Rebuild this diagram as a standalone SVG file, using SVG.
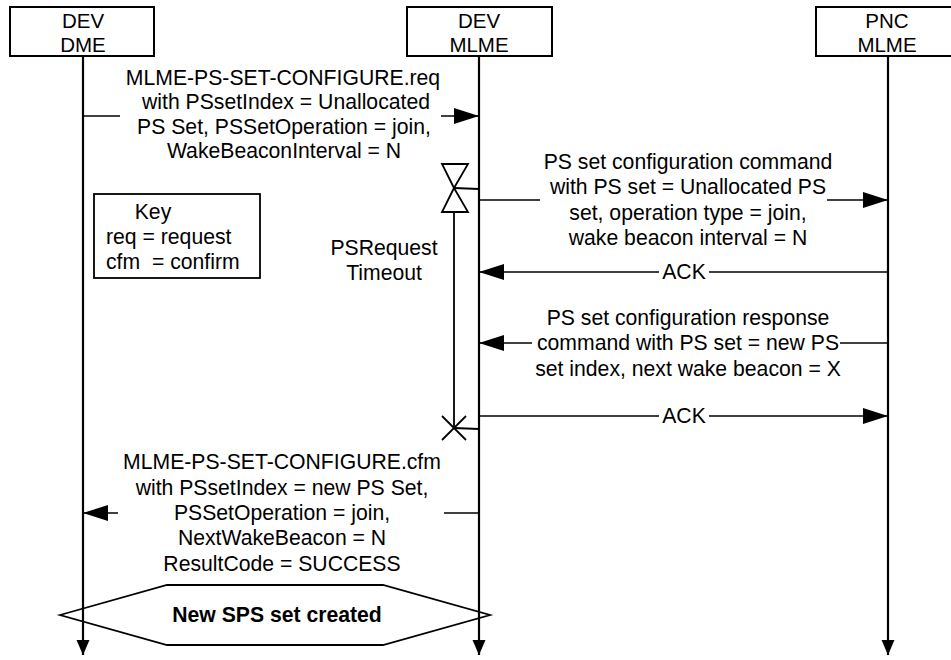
<svg xmlns="http://www.w3.org/2000/svg" width="951" height="660" viewBox="0 0 951 660">
<style>
text{font-family:"Liberation Sans",Arial,sans-serif;font-size:21.2px;fill:#000}
.c{text-anchor:middle}
.b{font-weight:bold}
.h{font-size:20.5px}
.box{fill:#fff;stroke:#000;stroke-width:2}
.life{stroke:#000;stroke-width:2.2;fill:none}
.msg{stroke:#000;stroke-width:1.6;fill:none}
.shape{stroke:#000;stroke-width:1.8;fill:none}
</style>
<defs>
<marker id="ah" markerUnits="userSpaceOnUse" markerWidth="26" markerHeight="18" refX="25" refY="8" orient="auto">
<path d="M0,0 L25,8 L0,16 z" fill="#000"/>
</marker>
<marker id="lh" markerUnits="userSpaceOnUse" markerWidth="16" markerHeight="14" refX="15" refY="6.5" orient="auto">
<path d="M0,0 L15,6.5 L0,13 z" fill="#000"/>
</marker>
</defs>

<g id="node-dev-dme">
<rect class="box" x="10" y="7" width="144" height="49"/>
<text class="c h" x="83" y="28">DEV</text>
<text class="c h" x="83" y="52">DME</text>
</g>
<g id="node-dev-mlme">
<rect class="box" x="407" y="7" width="145" height="49"/>
<text class="c h" x="479" y="28">DEV</text>
<text class="c h" x="479" y="52">MLME</text>
</g>
<g id="node-pnc-mlme">
<rect class="box" x="816" y="7" width="144" height="49"/>
<text class="c h" x="887" y="28">PNC</text>
<text class="c h" x="887" y="52">MLME</text>
</g>

<g id="key">
<rect x="94" y="194" width="166" height="84" fill="none" stroke="#000" stroke-width="1.8"/>
<text class="c" x="153" y="219">Key</text>
<text x="106" y="244">req = request</text>
<text x="106" y="269" xml:space="preserve">cfm  = confirm</text>
</g>

<g id="connectors">
<line class="life" x1="83" y1="56" x2="83" y2="655" marker-end="url(#lh)"/>
<line class="life" x1="479" y1="56" x2="479" y2="655" marker-end="url(#lh)"/>
<line class="life" x1="888" y1="56" x2="888" y2="655" marker-end="url(#lh)"/>

<line class="msg" x1="83" y1="116" x2="120" y2="116"/>
<line class="msg" x1="441" y1="116" x2="479" y2="116" marker-end="url(#ah)"/>

<line class="msg" x1="479" y1="200" x2="540" y2="200"/>
<line class="msg" x1="827" y1="200" x2="888" y2="200" marker-end="url(#ah)"/>

<line class="msg" x1="888" y1="272" x2="709" y2="272"/>
<line class="msg" x1="659" y1="272" x2="479" y2="272" marker-end="url(#ah)"/>

<line class="msg" x1="888" y1="343" x2="840" y2="343"/>
<line class="msg" x1="532" y1="343" x2="479" y2="343" marker-end="url(#ah)"/>

<line class="msg" x1="479" y1="416" x2="659" y2="416"/>
<line class="msg" x1="709" y1="416" x2="888" y2="416" marker-end="url(#ah)"/>

<line class="msg" x1="479" y1="513" x2="444" y2="513"/>
<line class="msg" x1="118" y1="513" x2="83" y2="513" marker-end="url(#ah)"/>
</g>

<g id="timer">
<path class="shape" d="M442,164 L468,164 L454,188 Z"/>
<path class="shape" d="M442,212 L468,212 L454,188 Z"/>
<line class="shape" x1="454" y1="188" x2="479" y2="189"/>
<line class="shape" x1="454" y1="212" x2="454" y2="428"/>
<line class="shape" x1="442" y1="416" x2="466" y2="440"/>
<line class="shape" x1="442" y1="440" x2="466" y2="416"/>
<line class="shape" x1="454" y1="428" x2="479" y2="429"/>
<text class="c" x="384" y="255">PSRequest</text>
<text class="c" x="384" y="280">Timeout</text>
</g>

<g id="labels">
<text class="c" x="283" y="85">MLME-PS-SET-CONFIGURE.req</text>
<text class="c" x="286" y="109">with PSsetIndex = Unallocated</text>
<text class="c" x="284" y="134">PS Set, PSSetOperation = join,</text>
<text class="c" x="284" y="158">WakeBeaconInterval = N</text>

<text class="c" x="688" y="169">PS set configuration command</text>
<text class="c" x="688" y="194">with PS set = Unallocated PS</text>
<text class="c" x="688" y="220">set, operation type = join,</text>
<text class="c" x="688" y="245">wake beacon interval = N</text>

<text class="c" x="684" y="279">ACK</text>

<text class="c" x="688" y="325">PS set configuration response</text>
<text class="c" x="688" y="350">command with PS set = new PS</text>
<text class="c" x="688" y="376">set index, next wake beacon = X</text>

<text class="c" x="684" y="423">ACK</text>

<text class="c" x="282" y="469">MLME-PS-SET-CONFIGURE.cfm</text>
<text class="c" x="282" y="495">with PSsetIndex = new PS Set,</text>
<text class="c" x="282" y="520">PSSetOperation = join,</text>
<text class="c" x="282" y="545">NextWakeBeacon = N</text>
<text class="c" x="282" y="571">ResultCode = SUCCESS</text>
</g>

<g id="node-new-sps-set">
<path class="shape" d="M60,615 L167,585 L383,585 L490,615 L383,645 L167,645 Z"/>
<text class="c b" x="277" y="622">New SPS set created</text>
</g>
</svg>
